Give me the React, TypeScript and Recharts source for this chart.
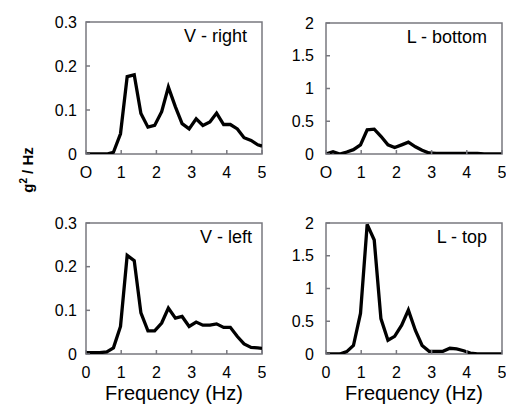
import React from "react";
import { LineChart, Line, XAxis, YAxis, ReferenceArea } from "recharts";

const freq = [0, 0.2, 0.39, 0.59, 0.78, 0.98, 1.17, 1.37, 1.56, 1.76, 1.95, 2.15, 2.34, 2.54, 2.73, 2.93, 3.13, 3.32, 3.52, 3.71, 3.91, 4.1, 4.3, 4.49, 4.69, 4.88, 5.0];
const vRight = [0, 0, 0, 0, 0.004, 0.046, 0.176, 0.18, 0.092, 0.061, 0.065, 0.096, 0.152, 0.107, 0.069, 0.057, 0.08, 0.065, 0.073, 0.093, 0.067, 0.067, 0.057, 0.037, 0.031, 0.021, 0.018];
const lBottom = [0, 0.036, 0, 0.03, 0.066, 0.14, 0.37, 0.38, 0.27, 0.14, 0.1, 0.14, 0.18, 0.11, 0.056, 0.015, 0.01, 0.01, 0.01, 0.01, 0.01, 0.01, 0.01, 0, 0, 0, 0];
const vLeft = [0.003, 0.003, 0.003, 0.005, 0.014, 0.063, 0.226, 0.214, 0.094, 0.053, 0.053, 0.071, 0.105, 0.082, 0.086, 0.063, 0.073, 0.066, 0.066, 0.069, 0.061, 0.061, 0.04, 0.023, 0.015, 0.014, 0.013];
const lTop = [0, 0, 0, 0.036, 0.13, 0.62, 1.98, 1.74, 0.54, 0.21, 0.27, 0.44, 0.67, 0.36, 0.13, 0.04, 0.04, 0.04, 0.087, 0.077, 0.05, 0.015, 0, 0, 0, 0, 0];

const xTicks = [0, 1, 2, 3, 4, 5];
const vTicks = [0, 0.1, 0.2, 0.3];
const lTicks = [0, 0.5, 1, 1.5, 2];
const titles = ["V - right", "L - bottom", "V - left", "L - top"];
const xLabel = "Frequency (Hz)";

const FONT = "'Liberation Sans', Arial, Helvetica, sans-serif";
const FRAME = "#78787f";
const TICK_IN = -4;

const tickStyle = { fontSize: 16, fill: "#000", fontFamily: FONT };
const tickLineStyle = { stroke: FRAME, strokeWidth: 1.5 };

type PanelProps = {
  left: number;
  top: number;
  width: number;
  height: number;
  marginTop: number;
  marginRight: number;
  yWidth: number;
  xHeight: number;
  yMargin: number;
  values: number[];
  yMax: number;
  yTicks: number[];
  useO: boolean;
};

const Panel = (p: PanelProps) => {
  const data = freq.map((f, i) => ({ f, v: p.values[i] }));
  return (
    <div style={{ position: "absolute", left: p.left, top: p.top }}>
      <LineChart
        width={p.width}
        height={p.height}
        data={data}
        margin={{ top: p.marginTop, right: p.marginRight, left: 0, bottom: 0 }}
      >
        <XAxis
          dataKey="f"
          type="number"
          domain={[0, 5]}
          ticks={xTicks}
          allowDataOverflow
          height={p.xHeight}
          tickSize={TICK_IN}
          tickMargin={13 - TICK_IN}
          tickLine={tickLineStyle}
          axisLine={false}
          tick={tickStyle}
          tickFormatter={(v: number) => (p.useO && v === 0 ? "O" : String(v))}
          interval={0}
        />
        <YAxis
          type="number"
          domain={[0, p.yMax]}
          ticks={p.yTicks}
          allowDataOverflow
          width={p.yWidth}
          tickSize={TICK_IN}
          tickMargin={p.yMargin - TICK_IN}
          tickLine={tickLineStyle}
          axisLine={false}
          tick={tickStyle}
          interval={0}
        />
        <ReferenceArea
          x1={0}
          x2={5}
          y1={0}
          y2={p.yMax}
          fill="none"
          stroke={FRAME}
          strokeOpacity={1}
          strokeWidth={1.5}
          ifOverflow="visible"
        />
        <Line
          type="linear"
          dataKey="v"
          stroke="#000"
          strokeWidth={3.3}
          dot={false}
          activeDot={false}
          isAnimationActive={false}
        />
      </LineChart>
    </div>
  );
};

export default function App() {
  return (
    <div
      style={{
        position: "absolute",
        left: 0,
        top: 0,
        width: 507,
        height: 407,
        background: "#fff",
        overflow: "hidden",
      }}
    >
      <Panel left={26} top={0} width={240} height={180} marginTop={22} marginRight={4} yWidth={60} xHeight={26} yMargin={9} values={vRight} yMax={0.3} yTicks={vTicks} useO={true} />
      <Panel left={266} top={0} width={240} height={180} marginTop={23} marginRight={4} yWidth={60} xHeight={26} yMargin={12} values={lBottom} yMax={2} yTicks={lTicks} useO={true} />
      <Panel left={26} top={200} width={240} height={207} marginTop={23} marginRight={4} yWidth={60} xHeight={53} yMargin={9} values={vLeft} yMax={0.3} yTicks={vTicks} useO={false} />
      <Panel left={266} top={200} width={240} height={207} marginTop={23} marginRight={4} yWidth={60} xHeight={53} yMargin={12} values={lTop} yMax={2} yTicks={lTicks} useO={false} />
      <svg
        width={507}
        height={407}
        style={{ position: "absolute", left: 0, top: 0, pointerEvents: "none" }}
      >
        <g fontFamily={FONT} fill="#000">
          <text x={247} y={42} fontSize={18} textAnchor="end">{titles[0]}</text>
          <text x={487} y={43} fontSize={18} textAnchor="end">{titles[1]}</text>
          <text x={252} y={243} fontSize={18} textAnchor="end">{titles[2]}</text>
          <text x={487} y={243} fontSize={18} textAnchor="end">{titles[3]}</text>
          <text x={174} y={400} fontSize={20} textAnchor="middle">{xLabel}</text>
          <text x={414} y={400} fontSize={20} textAnchor="middle">{xLabel}</text>
          <text
            x={0}
            y={0}
            transform="translate(33,170) rotate(-90)"
            fontSize={15}
            fontWeight="bold"
            textAnchor="middle"
          >
            g<tspan dy={-6} fontSize={10}>2</tspan>
            <tspan dy={6}> / Hz</tspan>
          </text>
        </g>
      </svg>
    </div>
  );
}
